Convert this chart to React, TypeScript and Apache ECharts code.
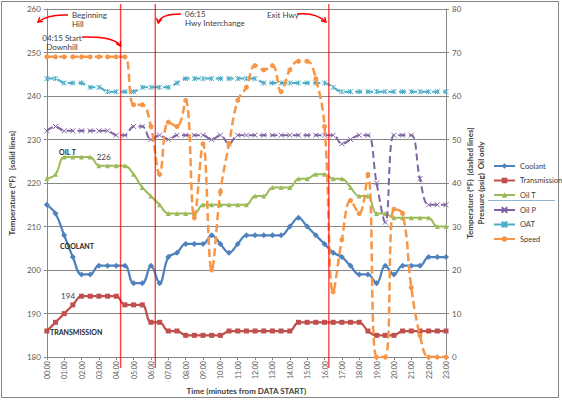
import React, { useEffect, useRef } from "react";
import * as echarts from "echarts";

// Sample times in hours from data start (every 30 minutes)
const hours = [
  0, 0.5, 1, 1.5, 2, 2.5, 3, 3.5, 4, 4.5, 5, 5.5, 6, 6.5, 7, 7.5, 8, 8.5, 9, 9.5,
  10, 10.5, 11, 11.5, 12, 12.5, 13, 13.5, 14, 14.5, 15, 15.5, 16, 16.5, 17, 17.5,
  18, 18.5, 19, 19.5, 20, 20.5, 21, 21.5, 22, 22.5, 23,
];

// Primary axis: temperatures (°F)
const coolant = [
  215, 213, 208, 203, 199, 199, 201, 201, 201, 201, 197, 197, 201, 197, 203, 204,
  206, 206, 206, 208, 206, 204, 206, 208, 208, 208, 208, 208, 210, 212, 210, 208,
  206, 204, 203, 201, 199, 199, 197, 201, 199, 201, 201, 201, 203, 203, 203,
];
const transmission = [
  186, 188, 190, 192, 194, 194, 194, 194, 194, 192, 192, 192, 188, 188, 186, 186,
  185, 185, 185, 185, 185, 186, 186, 186, 186, 186, 186, 186, 186, 188, 188, 188,
  188, 188, 188, 188, 188, 186, 185, 185, 185, 186, 186, 186, 186, 186, 186,
];
const oilT = [
  221, 222, 226, 226, 226, 226, 224, 224, 224, 224, 222, 219, 217, 215, 213, 213,
  213, 213, 215, 215, 215, 215, 215, 215, 217, 217, 219, 219, 219, 221, 221, 222,
  222, 221, 221, 219, 217, 217, 213, 213, 212, 212, 212, 212, 212, 210, 210,
];

// Secondary axis: oil pressure (psig), outside air temp (°F), speed
const oilP = [
  52, 53, 52, 52, 52, 52, 52, 52, 51, 51, 53, 53, 50, 51, 50, 51, 51, 51, 51, 50,
  51, 49, 51, 51, 51, 51, 51, 51, 51, 51, 51, 51, 51, 51, 49, 50, 51, 51, 40, 31,
  51, 51, 51, 41, 35, 35, 35,
];
const oat = [
  64, 64, 63, 63, 63, 62, 62, 61, 61, 61, 61, 62, 62, 62, 62, 63, 64, 64, 64, 64,
  64, 64, 64, 64, 64, 63, 63, 63, 63, 63, 63, 63, 63, 62, 61, 61, 61, 61, 61, 61,
  61, 61, 61, 61, 61, 61, 61,
];
const speed = [
  69, 69, 69, 69, 69, 69, 69, 69, 69, 69, 58, 58, 53, 42, 54, 53, 59, 32, 49, 20,
  38, 49, 59, 62, 67, 66, 67, 61, 66, 68, 68, 64, 53, 15, 27, 36, 33, 42, 0, 0,
  34, 33, 16, 5, 0, 0, 0,
];

// Route events (hours)
const beginHill = 4.25;
const hwyInterchange = 6.25;
const exitHwy = 16.25;

// Points that carry a value label
const oilTLabelIdx = 5;
const transLabelIdx = 4;

const FONT = "Lato, 'Liberation Sans', Arial, sans-serif";
const GREY = "#868686";
const TEXT = "#404040";
const RED = "#FF0000";

const C_COOLANT = "#4F81BD";
const C_TRANS = "#C0504D";
const C_OILT = "#9BBB59";
const C_OILP = "#8064A2";
const C_OAT = "#4BACC6";
const C_SPEED = "#F79646";

const X_SYM = "path://M0,0L10,10M10,0L0,10";
const STAR_SYM = "path://M0,0L10,10M10,0L0,10M5,0L5,10";

const hh = (v: number) => (v < 10 ? "0" : "") + v + ":00";

function points(values: number[], labelIdx?: number, labelPos?: string) {
  return hours.map((h, i) => {
    if (i === labelIdx) {
      return {
        value: [h, values[i]],
        label: {
          show: true,
          position: labelPos,
          distance: 4,
          fontSize: 8,
          fontFamily: FONT,
          color: TEXT,
          formatter: (p: any) => String(p.value[1]),
        },
      };
    }
    return [h, values[i]];
  });
}

function arrow(x0: number, y0: number, cx: number, cy: number, x1: number, y1: number) {
  const ang = Math.atan2(y1 - cy, x1 - cx);
  const L = 5;
  const s = 0.55;
  const a1 = [x1 - L * Math.cos(ang - s), y1 - L * Math.sin(ang - s)];
  const a2 = [x1 - L * Math.cos(ang + s), y1 - L * Math.sin(ang + s)];
  const style = { stroke: RED, lineWidth: 1.5, fill: "none" };
  return [
    {
      type: "bezierCurve",
      silent: true,
      z: 50,
      shape: { x1: x0, y1: y0, x2: x1, y2: y1, cpx1: cx, cpy1: cy },
      style,
    },
    { type: "polyline", silent: true, z: 50, shape: { points: [a1, [x1, y1], a2] }, style },
  ];
}

function annot(text: string, x: number, y: number, align = "left", bold = false) {
  return {
    type: "text",
    silent: true,
    z: 50,
    x,
    y,
    style: {
      text,
      fontSize: bold ? 7 : 8,
      fontWeight: bold ? "bold" : "normal",
      fontFamily: FONT,
      fill: bold ? "#262626" : TEXT,
      align,
      verticalAlign: "top",
      lineHeight: 9,
    },
  };
}

export default function App() {
  const ref = useRef<HTMLDivElement>(null);

  useEffect(() => {
    const chart = echarts.init(ref.current!, null, { renderer: "svg" });

    const base = {
      type: "line",
      smooth: 0.4,
      showSymbol: true,
      emphasis: { disabled: true },
    };

    const legendCommon = {
      orient: "vertical",
      left: 488,
      itemWidth: 21,
      itemHeight: 7,
      itemGap: 6.5,
      textStyle: { fontSize: 7.5, fontFamily: FONT, color: TEXT },
      selectedMode: false,
    };

    const option: any = {
      animation: false,
      backgroundColor: "#ffffff",
      textStyle: { fontFamily: FONT },
      grid: { left: 36, right: 116, top: 9, bottom: 39 },
      legend: [
        { ...legendCommon, data: ["Coolant", "Transmission", "Oil T"], top: 157 },
        {
          ...legendCommon,
          data: ["Oil P", "OAT", "Speed"],
          top: 201,
          lineStyle: { type: "solid" },
        },
      ],
      xAxis: {
        type: "value",
        min: 0,
        max: 23,
        interval: 1,
        name: "Time (minutes from DATA START)",
        nameLocation: "middle",
        nameGap: 24,
        nameTextStyle: { fontSize: 8, fontWeight: "bold", color: TEXT, fontFamily: FONT },
        axisLine: { show: true, onZero: false, lineStyle: { color: GREY } },
        axisTick: { show: true, length: 3, lineStyle: { color: GREY } },
        axisLabel: {
          rotate: 90,
          fontSize: 7,
          color: "#595959",
          margin: 4,
          fontFamily: FONT,
          formatter: (v: number) => hh(v),
        },
        splitLine: { show: false },
      },
      yAxis: [
        {
          type: "value",
          position: "left",
          min: 180,
          max: 260,
          interval: 10,
          name: "Temperature (°F)   [solid lines]",
          nameLocation: "middle",
          nameRotate: 90,
          nameGap: 19,
          nameTextStyle: { fontSize: 8, fontWeight: "bold", color: TEXT, fontFamily: FONT },
          axisLine: { show: true, lineStyle: { color: GREY } },
          axisTick: { show: true, length: 3, lineStyle: { color: GREY } },
          axisLabel: { fontSize: 8, color: "#595959", margin: 6, fontFamily: FONT },
          splitLine: { show: true, lineStyle: { color: GREY, width: 1 } },
        },
        {
          type: "value",
          position: "right",
          min: 0,
          max: 80,
          interval: 10,
          name: "Temperature (°F)  [dashed lines]\nPressure (psig)  Oil only",
          nameLocation: "middle",
          nameRotate: 90,
          nameGap: 18,
          nameMoveOverlap: false,
          nameTextStyle: {
            fontSize: 8,
            fontWeight: "bold",
            color: TEXT,
            fontFamily: FONT,
            lineHeight: 11,
          },
          axisLine: { show: true, lineStyle: { color: GREY } },
          axisTick: { show: true, length: 3, lineStyle: { color: GREY } },
          axisLabel: { fontSize: 8, color: "#595959", margin: 6, fontFamily: FONT },
          splitLine: { show: false },
        },
      ],
      series: [
        {
          ...base,
          name: "Coolant",
          yAxisIndex: 0,
          data: points(coolant),
          symbol: "diamond",
          symbolSize: 6,
          lineStyle: { color: C_COOLANT, width: 2.25 },
          itemStyle: { color: C_COOLANT },
          z: 2,
        },
        {
          ...base,
          name: "Transmission",
          yAxisIndex: 0,
          data: points(transmission, transLabelIdx, "left"),
          symbol: "rect",
          symbolSize: 5,
          lineStyle: { color: C_TRANS, width: 2.25 },
          itemStyle: { color: C_TRANS },
          z: 3,
        },
        {
          ...base,
          name: "Oil T",
          yAxisIndex: 0,
          data: points(oilT, oilTLabelIdx, "right"),
          symbol: "triangle",
          symbolSize: 5,
          lineStyle: { color: C_OILT, width: 2 },
          itemStyle: { color: C_OILT },
          z: 4,
        },
        {
          ...base,
          name: "Oil P",
          yAxisIndex: 1,
          data: points(oilP),
          symbol: X_SYM,
          symbolSize: 5,
          lineStyle: { color: C_OILP, width: 2, type: [7, 4] },
          itemStyle: { color: C_OILP, borderColor: C_OILP, borderWidth: 1 },
          z: 5,
        },
        {
          ...base,
          name: "OAT",
          yAxisIndex: 1,
          data: points(oat),
          symbol: STAR_SYM,
          symbolSize: 5,
          lineStyle: { color: C_OAT, width: 2, type: [7, 4] },
          itemStyle: { color: C_OAT, borderColor: C_OAT, borderWidth: 1 },
          z: 6,
        },
        {
          ...base,
          name: "Speed",
          yAxisIndex: 1,
          data: points(speed),
          symbol: "circle",
          symbolSize: 5,
          lineStyle: { color: C_SPEED, width: 2.5, type: [8, 4] },
          itemStyle: { color: C_SPEED },
          z: 7,
        },
      ],
    };

    chart.setOption(option);

    const px = (t: number) => chart.convertToPixel({ xAxisIndex: 0 }, t) as number;
    const top = (chart.convertToPixel({ yAxisIndex: 0 }, 260) as number) - 5;
    const bottom = (chart.convertToPixel({ yAxisIndex: 0 }, 180) as number) + 11;

    const eventLine = (t: number) => ({
      type: "line",
      silent: true,
      z: 40,
      shape: { x1: px(t), y1: top, x2: px(t), y2: bottom },
      style: { stroke: "rgba(255,0,0,0.75)", lineWidth: 1.4 },
    });

    const xb = px(beginHill);
    const xh = px(hwyInterchange);
    const xe = px(exitHwy);

    const graphic: any[] = [
      {
        type: "rect",
        silent: true,
        shape: { x: 1.5, y: 1.5, width: 557, height: 396 },
        style: { fill: "none", stroke: GREY, lineWidth: 1 },
      },
      {
        type: "line",
        silent: true,
        shape: { x1: 488, y1: 200.5, x2: 555, y2: 200.5 },
        style: { stroke: "#95B3D7", lineWidth: 1 },
      },
      eventLine(beginHill),
      eventLine(hwyInterchange),
      eventLine(exitHwy),
      annot("Beginning\nHill", 72, 10),
      ...arrow(68, 15, 48, 14, 38, 22),
      annot("04:15 Start\nDownhill", 62, 33, "center"),
      ...arrow(82, 37, xb - 6, 36, xb, 46),
      annot("06:15\nHwy Interchange", 185, 9),
      ...arrow(181, 14, 160, 14, xh + 3, 23),
      annot("Exit Hwy", 267, 10),
      ...arrow(297, 14, 316, 12, xe - 3, 22),
      annot("OIL T", 59, 147, "left", true),
      annot("COOLANT", 60, 241, "left", true),
      annot("TRANSMISSION", 50, 327, "left", true),
    ];

    chart.setOption({ graphic });

    return () => chart.dispose();
  }, []);

  return (
    <div
      ref={ref}
      style={{ position: "absolute", left: 0, top: 0, width: 562, height: 400 }}
    />
  );
}
